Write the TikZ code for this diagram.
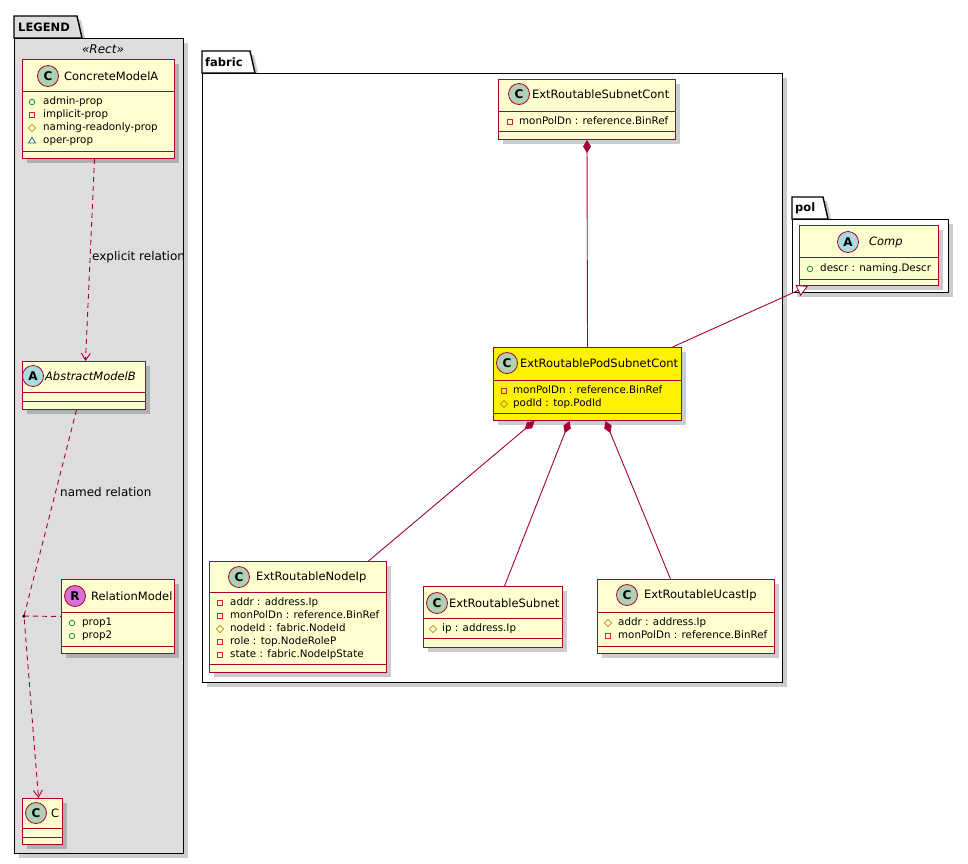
\documentclass[tikz,border=0pt]{standalone}
\usepackage{fontspec}
\setmainfont{DejaVu Sans}
\usetikzlibrary{positioning,arrows.meta,shadows,shapes.geometric}

\definecolor{umlred}{HTML}{A80036}
\definecolor{umlfill}{HTML}{FEFECE}
\definecolor{spotC}{HTML}{ADD1B2}
\definecolor{spotA}{HTML}{A9DCDF}
\definecolor{spotR}{HTML}{DA70D6}
\definecolor{legendgray}{HTML}{DDDDDD}
\definecolor{pubgreen}{HTML}{038048}
\definecolor{privred}{HTML}{C82930}
\definecolor{protgold}{HTML}{B38D22}
\definecolor{pkgblue}{HTML}{1963A0}

\tikzset{
  umlshadow/.style={drop shadow={shadow xshift=4pt, shadow yshift=-4pt, fill=black, opacity=0.2}},
  classbox/.style={draw=umlred, fill=umlfill, line width=1pt, inner sep=0pt, anchor=north west, umlshadow},
  divider/.style={draw=umlred, line width=1pt},
  spot/.style={circle, draw=umlred, line width=0.8pt, inner sep=0pt, minimum size=21pt, font=\fontsize{12}{12}\selectfont\bfseries},
  classname/.style={font=\fontsize{11.5}{13}\selectfont, inner sep=0pt},
  attr/.style={font=\fontsize{10.3}{12}\selectfont, anchor=west, inner sep=0pt, text height=7.6pt, text depth=2pt},
  pub/.style={circle, draw=pubgreen, line width=0.7pt, inner sep=0pt, minimum size=5.5pt},
  priv/.style={rectangle, draw=privred, line width=0.7pt, inner sep=0pt, minimum size=5.5pt},
  prot/.style={diamond, draw=protgold, line width=0.7pt, inner sep=0pt, minimum size=7.5pt},
  pkg/.style={regular polygon, regular polygon sides=3, draw=pkgblue, line width=0.7pt, inner sep=0pt, minimum size=8pt},
  pkgbox/.style={draw=black, line width=1.4pt, umlshadow},
  pkgtitle/.style={font=\fontsize{11.5}{12}\selectfont\bfseries, anchor=west, inner sep=0pt},
  rel/.style={draw=umlred, line width=0.9pt},
  dep/.style={rel, dash pattern=on 5pt off 4pt, -{Straight Barb[length=7pt,width=9pt]}},
  composition/.style={rel, {Diamond[length=13pt,width=8pt]}-},
  generalize/.style={rel, -{Triangle[open,length=11pt,width=12pt,fill=white]}},
  rellabel/.style={font=\fontsize{12}{14}\selectfont, anchor=west, inner sep=0pt}
}

\begin{document}
\begin{tikzpicture}[x=1pt,y=-1pt]
  \useasboundingbox (0,0) rectangle (968,863);

  % packages
  \filldraw[pkgbox, fill=legendgray] (14,38) -- (14,16) -- (77,16) -- (82,38) -- cycle;
  \node[pkgbox, fill=legendgray, anchor=north west, minimum width=169pt, minimum height=815pt] (legend) at (14,38) {};
  \node[pkgtitle] (legend-t) at (18,27) {LEGEND};
  \node[font=\fontsize{12}{14}\selectfont\itshape, inner sep=0pt] (rect) at (103,49) {«Rect»};

  \filldraw[pkgbox, fill=white] (202,73) -- (202,51) -- (250,51) -- (255,73) -- cycle;
  \node[pkgbox, fill=white, anchor=north west, minimum width=580pt, minimum height=609pt] (fabric) at (202,73) {};
  \node[pkgtitle] (fabric-t) at (205,62) {fabric};

  \filldraw[pkgbox, fill=white] (792,219) -- (792,197) -- (823,197) -- (828,219) -- cycle;
  \node[pkgbox, fill=white, anchor=north west, minimum width=156pt, minimum height=73pt] (pol) at (792,219) {};
  \node[pkgtitle] (pol-t) at (795,208) {pol};

  % legend classes
  \node[classbox, minimum width=152pt, minimum height=99pt] (cma) at (22,59) {};
  \draw[divider] (22,91) -- (174,91) (22,151) -- (174,151);
  \node[spot, fill=spotC] (cma-c) at (48,76) {C};
  \node[classname, right=5pt of cma-c] (cma-n) {ConcreteModelA};
  \foreach \ic/\t [count=\i] in {pub/admin-prop, priv/implicit-prop, prot/naming-readonly-prop, pkg/oper-prop}
    {\node[\ic] (cma-i\i) at (32,89+13*\i) {}; \node[attr] (cma-a\i) at (43,89+13*\i) {\t};}

  \node[classbox, minimum width=123pt, minimum height=48pt] (amb) at (22,361) {};
  \draw[divider] (22,392) -- (145,392) (22,401) -- (145,401);
  \node[spot, fill=spotA] (amb-c) at (33,376) {A};
  \node[classname, font=\fontsize{11.5}{13}\selectfont\itshape, right=1pt of amb-c] (amb-n) {AbstractModelB};

  \node[classbox, minimum width=113pt, minimum height=74pt] (rm) at (61,579) {};
  \draw[divider] (61,612) -- (174,612) (61,646) -- (174,646);
  \node[spot, fill=spotR] (rm-c) at (75,596) {R};
  \node[classname, right=5pt of rm-c] (rm-n) {RelationModel};
  \foreach \ic/\t [count=\i] in {pub/prop1, pub/prop2}
    {\node[\ic] (rm-i\i) at (72,610+13*\i) {}; \node[attr] (rm-a\i) at (82,610+13*\i) {\t};}

  \node[classbox, minimum width=40pt, minimum height=46pt] (c) at (22,798) {};
  \draw[divider] (22,828) -- (62,828) (22,837) -- (62,837);
  \node[spot, fill=spotC] (c-c) at (36,813) {C};
  \node[classname, right=4pt of c-c] (c-n) {C};

  % fabric classes
  \node[classbox, minimum width=177pt, minimum height=60pt] (src) at (498,79) {};
  \draw[divider] (498,111) -- (675,111) (498,131) -- (675,131);
  \node[spot, fill=spotC] (src-c) at (519,94) {C};
  \node[classname, right=2pt of src-c] (src-n) {ExtRoutableSubnetCont};
  \node[priv] (src-i1) at (510,122) {};
  \node[attr] (src-a1) at (519,122) {monPolDn : reference.BinRef};

  \node[classbox, fill=yellow, minimum width=188pt, minimum height=73pt] (pod) at (493,347) {};
  \draw[divider] (493,380) -- (681,380) (493,413) -- (681,413);
  \node[spot, fill=spotC] (pod-c) at (507,363) {C};
  \node[classname, right=2pt of pod-c] (pod-n) {ExtRoutablePodSubnetCont};
  \foreach \ic/\t [count=\i] in {priv/monPolDn : reference.BinRef, prot/podId : top.PodId}
    {\node[\ic] (pod-i\i) at (504,378+13*\i) {}; \node[attr] (pod-a\i) at (513,378+13*\i) {\t};}

  \node[classbox, minimum width=177pt, minimum height=111pt] (nip) at (209,561) {};
  \draw[divider] (209,592) -- (386,592) (209,664) -- (386,664);
  \node[spot, fill=spotC] (nip-c) at (239,577) {C};
  \node[classname, right=6pt of nip-c] (nip-n) {ExtRoutableNodeIp};
  \foreach \ic/\t [count=\i] in {priv/addr : address.Ip, priv/monPolDn : reference.BinRef, prot/nodeId : fabric.NodeId, priv/role : top.NodeRoleP, priv/state : fabric.NodeIpState}
    {\node[\ic] (nip-i\i) at (220,590+13*\i) {}; \node[attr] (nip-a\i) at (230,590+13*\i) {\t};}

  \node[classbox, minimum width=139pt, minimum height=61pt] (sub) at (423,586) {};
  \draw[divider] (423,618) -- (562,618) (423,638) -- (562,638);
  \node[spot, fill=spotC] (sub-c) at (437,603) {C};
  \node[classname, right=1pt of sub-c] (sub-n) {ExtRoutableSubnet};
  \node[prot] (sub-i1) at (433,629) {};
  \node[attr] (sub-a1) at (442,629) {ip : address.Ip};

  \node[classbox, minimum width=177pt, minimum height=74pt] (ucast) at (597,579) {};
  \draw[divider] (597,612) -- (774,612) (597,646) -- (774,646);
  \node[spot, fill=spotC] (ucast-c) at (627,595) {C};
  \node[classname, right=6pt of ucast-c] (ucast-n) {ExtRoutableUcastIp};
  \foreach \ic/\t [count=\i] in {prot/addr : address.Ip, priv/monPolDn : reference.BinRef}
    {\node[\ic] (ucast-i\i) at (608,610+13*\i) {}; \node[attr] (ucast-a\i) at (618,610+13*\i) {\t};}

  % pol class
  \node[classbox, minimum width=139pt, minimum height=60pt] (comp) at (799,225) {};
  \draw[divider] (799,257) -- (938,257) (799,279) -- (938,279);
  \node[spot, fill=spotA] (comp-c) at (848,242) {A};
  \node[classname, font=\fontsize{11.5}{13}\selectfont\itshape, right=10pt of comp-c] (comp-n) {Comp};
  \node[pub] (comp-i1) at (810,269) {};
  \node[attr] (comp-a1) at (820,269) {descr : naming.Descr};

  % legend relations
  \draw[dep] ([xshift=-4pt]cma.south) -- ([xshift=1.5pt]amb.north);
  \node[rellabel] (explicit) at (92,257) {explicit relation};
  \node[circle, fill=black, inner sep=0pt, minimum size=3.5pt] (nr) at (24,616) {};
  \draw[rel, dash pattern=on 5pt off 4pt] (nr.center) -- (rm.west);
  \draw[dep] ([xshift=-7.5pt]amb.south) -- (nr.center) -- ([xshift=-4pt]c.north);
  \node[rellabel] (named) at (60,492) {named relation};

  % fabric relations
  \draw[composition] (src.south) -- (pod.north);
  \draw[composition] ([xshift=-53pt]pod.south) -- ([xshift=70.5pt]nip.north);
  \draw[composition] ([xshift=-18pt]pod.south) -- ([xshift=11.5pt]sub.north);
  \draw[composition] ([xshift=18pt]pod.south) -- ([xshift=-15.5pt]ucast.north);
  \draw[generalize] ([xshift=85pt]pod.north) -- ([xshift=-61pt]comp.south);
\end{tikzpicture}
\end{document}
